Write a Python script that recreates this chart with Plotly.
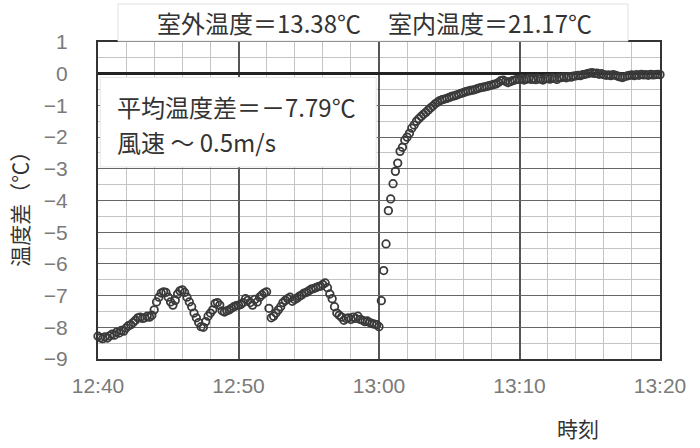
import pandas as pd
import plotly.graph_objects as go

# temperature difference (°C), one reading every 10 s from 12:40 to 13:20
seg_1240_1250 = [
    -8.28, -8.33, -8.36, -8.30, -8.34, -8.27,
    -8.22, -8.25, -8.15, -8.18, -8.10, -8.12,
    -8.02, -7.95, -7.92, -7.85, -7.78, -7.70,
    -7.68, -7.72, -7.70, -7.65, -7.68, -7.62,
    -7.45, -7.20, -7.05, -6.92, -6.88, -6.90,
    -7.05, -7.20, -7.30, -7.15, -6.95, -6.85,
    -6.82, -6.90, -7.05, -7.20, -7.35, -7.55,
    -7.70, -7.85, -7.98, -8.00, -7.82, -7.65,
    -7.55, -7.45, -7.25, -7.22, -7.30, -7.48,
    -7.52, -7.48, -7.45, -7.40, -7.35, -7.32,
]
seg_1250_1300 = [
    -7.30, -7.28, -7.22, -7.10, -7.15, -7.22,
    -7.30, -7.12, -7.20, -7.05, -6.98, -6.92,
    -6.88, -7.40, -7.70, -7.65, -7.55, -7.45,
    -7.35, -7.22, -7.15, -7.10, -7.05, -7.18,
    -7.12, -7.08, -7.02, -6.98, -6.92, -6.90,
    -6.85, -6.80, -6.78, -6.75, -6.72, -6.70,
    -6.65, -6.60, -6.75, -6.95, -7.10, -7.35,
    -7.55, -7.62, -7.68, -7.78, -7.72, -7.70,
    -7.75, -7.68, -7.72, -7.65, -7.75, -7.78,
    -7.82, -7.80, -7.85, -7.88, -7.90, -7.92,
]
seg_1300_1310 = [
    -7.98, -7.16, -6.21, -5.37, -4.32, -3.95,
    -3.47, -3.08, -2.82, -2.45, -2.32, -2.10,
    -2.00, -1.88, -1.72, -1.62, -1.50, -1.42,
    -1.35, -1.28, -1.22, -1.15, -1.08, -1.02,
    -0.95, -0.90, -0.85, -0.82, -0.80, -0.78,
    -0.75, -0.72, -0.70, -0.68, -0.65, -0.62,
    -0.60, -0.57, -0.55, -0.53, -0.52, -0.50,
    -0.47, -0.45, -0.43, -0.42, -0.40, -0.38,
    -0.36, -0.34, -0.32, -0.28, -0.22, -0.20,
    -0.24, -0.28, -0.25, -0.22, -0.20, -0.18,
]
seg_1310_1320 = [
    -0.18, -0.16, -0.20, -0.17, -0.15, -0.18,
    -0.16, -0.19, -0.15, -0.17, -0.20, -0.16,
    -0.14, -0.17, -0.13, -0.15, -0.18, -0.12,
    -0.12, -0.10, -0.13, -0.09, -0.11, -0.08,
    -0.07, -0.05, -0.06, -0.03, -0.02, 0.00,
    0.02, 0.03, 0.01, 0.02, -0.02, 0.00,
    -0.03, -0.05, -0.04, -0.06, -0.03, -0.05,
    -0.08, -0.10, -0.12, -0.09, -0.07, -0.05,
    -0.04, -0.06, -0.03, -0.05, -0.02, -0.04,
    -0.03, -0.05, -0.02, -0.04, -0.03, -0.02,
    -0.03,
]
temp_diff = seg_1240_1250 + seg_1250_1300 + seg_1300_1310 + seg_1310_1320
start_time = "2000-01-01 12:40:00"
end_time = "2000-01-01 13:20:00"
times = pd.date_range(start=start_time, periods=len(temp_diff), freq="10s")

title_outdoor = "室外温度＝13.38℃"
title_indoor = "室内温度＝21.17℃"
note_line1 = "平均温度差＝－7.79℃"
note_line2 = "風速 ～ 0.5m/s"
y_title = "温度差（℃）"
x_title = "時刻"

CJK = "Noto Sans CJK JP, Noto Sans, sans-serif"
NARROW = "Liberation Sans Narrow, Arial Narrow, Liberation Sans, sans-serif"

fig = go.Figure()
fig.add_trace(go.Scatter(
    x=times, y=temp_diff, mode="markers",
    marker=dict(symbol="circle-open", size=7.5, color="#3a3a3a",
                line=dict(width=1.8, color="#3a3a3a")),
    showlegend=False, cliponaxis=False, hoverinfo="skip",
))

fig.update_layout(
    width=700, height=448,
    margin=dict(l=98, r=40, t=42, b=89),
    paper_bgcolor="white", plot_bgcolor="white",
    xaxis=dict(
        range=[start_time, end_time], type="date",
        tickformat="%H:%M", dtick=600000, tick0=start_time,
        showgrid=True, gridcolor="#555555", gridwidth=1.5,
        minor=dict(dtick=120000, showgrid=True, gridcolor="#c4c4c4", gridwidth=1),
        showline=True, mirror=True, linecolor="#333333", linewidth=2,
        ticks="", ticklabelstandoff=7,
        tickfont=dict(family=NARROW, size=21, color="#7a7a7a"),
        zeroline=False,
    ),
    yaxis=dict(
        range=[-9, 1], dtick=1, tick0=0,
        showgrid=True, gridcolor="#666666", gridwidth=1.3,
        minor=dict(dtick=0.5, showgrid=True, gridcolor="#c4c4c4", gridwidth=1),
        showline=True, mirror=True, linecolor="#333333", linewidth=2,
        zeroline=True, zerolinecolor="#222222", zerolinewidth=3,
        ticks="", ticklabelstandoff=24,
        tickfont=dict(family=NARROW, size=21, color="#7a7a7a"),
    ),
    shapes=[
        dict(type="rect", xref="paper", yref="paper",
             x0=0.0356, x1=0.943, y0=1.003, y1=1.12,
             fillcolor="white", line=dict(color="#e0e0e0", width=1), layer="above"),
        dict(type="rect", xref="paper", yref="paper",
             x0=0.004, x1=0.495, y0=0.606, y1=0.888,
             fillcolor="white", line=dict(color="#e6e6e6", width=1), layer="above"),
    ],
    annotations=[
        dict(text=title_outdoor, xref="paper", yref="paper", x=0.102, y=1.063,
             xanchor="left", yanchor="middle", showarrow=False,
             font=dict(family=CJK, size=24, color="#333333")),
        dict(text=title_indoor, xref="paper", yref="paper", x=0.513, y=1.063,
             xanchor="left", yanchor="middle", showarrow=False,
             font=dict(family=CJK, size=24, color="#333333")),
        dict(text=note_line1, xref="paper", yref="paper", x=0.031, y=0.795,
             xanchor="left", yanchor="middle", showarrow=False,
             font=dict(family=CJK, size=24, color="#333333")),
        dict(text=note_line2, xref="paper", yref="paper", x=0.031, y=0.685,
             xanchor="left", yanchor="middle", showarrow=False,
             font=dict(family=CJK, size=24, color="#333333")),
        dict(text=y_title, xref="paper", yref="paper", x=-0.142, y=0.49,
             xanchor="center", yanchor="middle", textangle=-90, showarrow=False,
             font=dict(family=CJK, size=21, color="#333333")),
        dict(text=x_title, xref="paper", yref="paper", x=0.854, y=-0.218,
             xanchor="center", yanchor="middle", showarrow=False,
             font=dict(family=CJK, size=21, color="#333333")),
    ],
)

fig.write_html("out.html", config={"displayModeBar": False})

# remove the browser's default page margin so the 700x448 figure sits at the window origin
with open("out.html", encoding="utf-8") as f:
    page = f.read()
page = page.replace("<body>", '<body style="margin:0">', 1)
with open("out.html", "w", encoding="utf-8") as f:
    f.write(page)
